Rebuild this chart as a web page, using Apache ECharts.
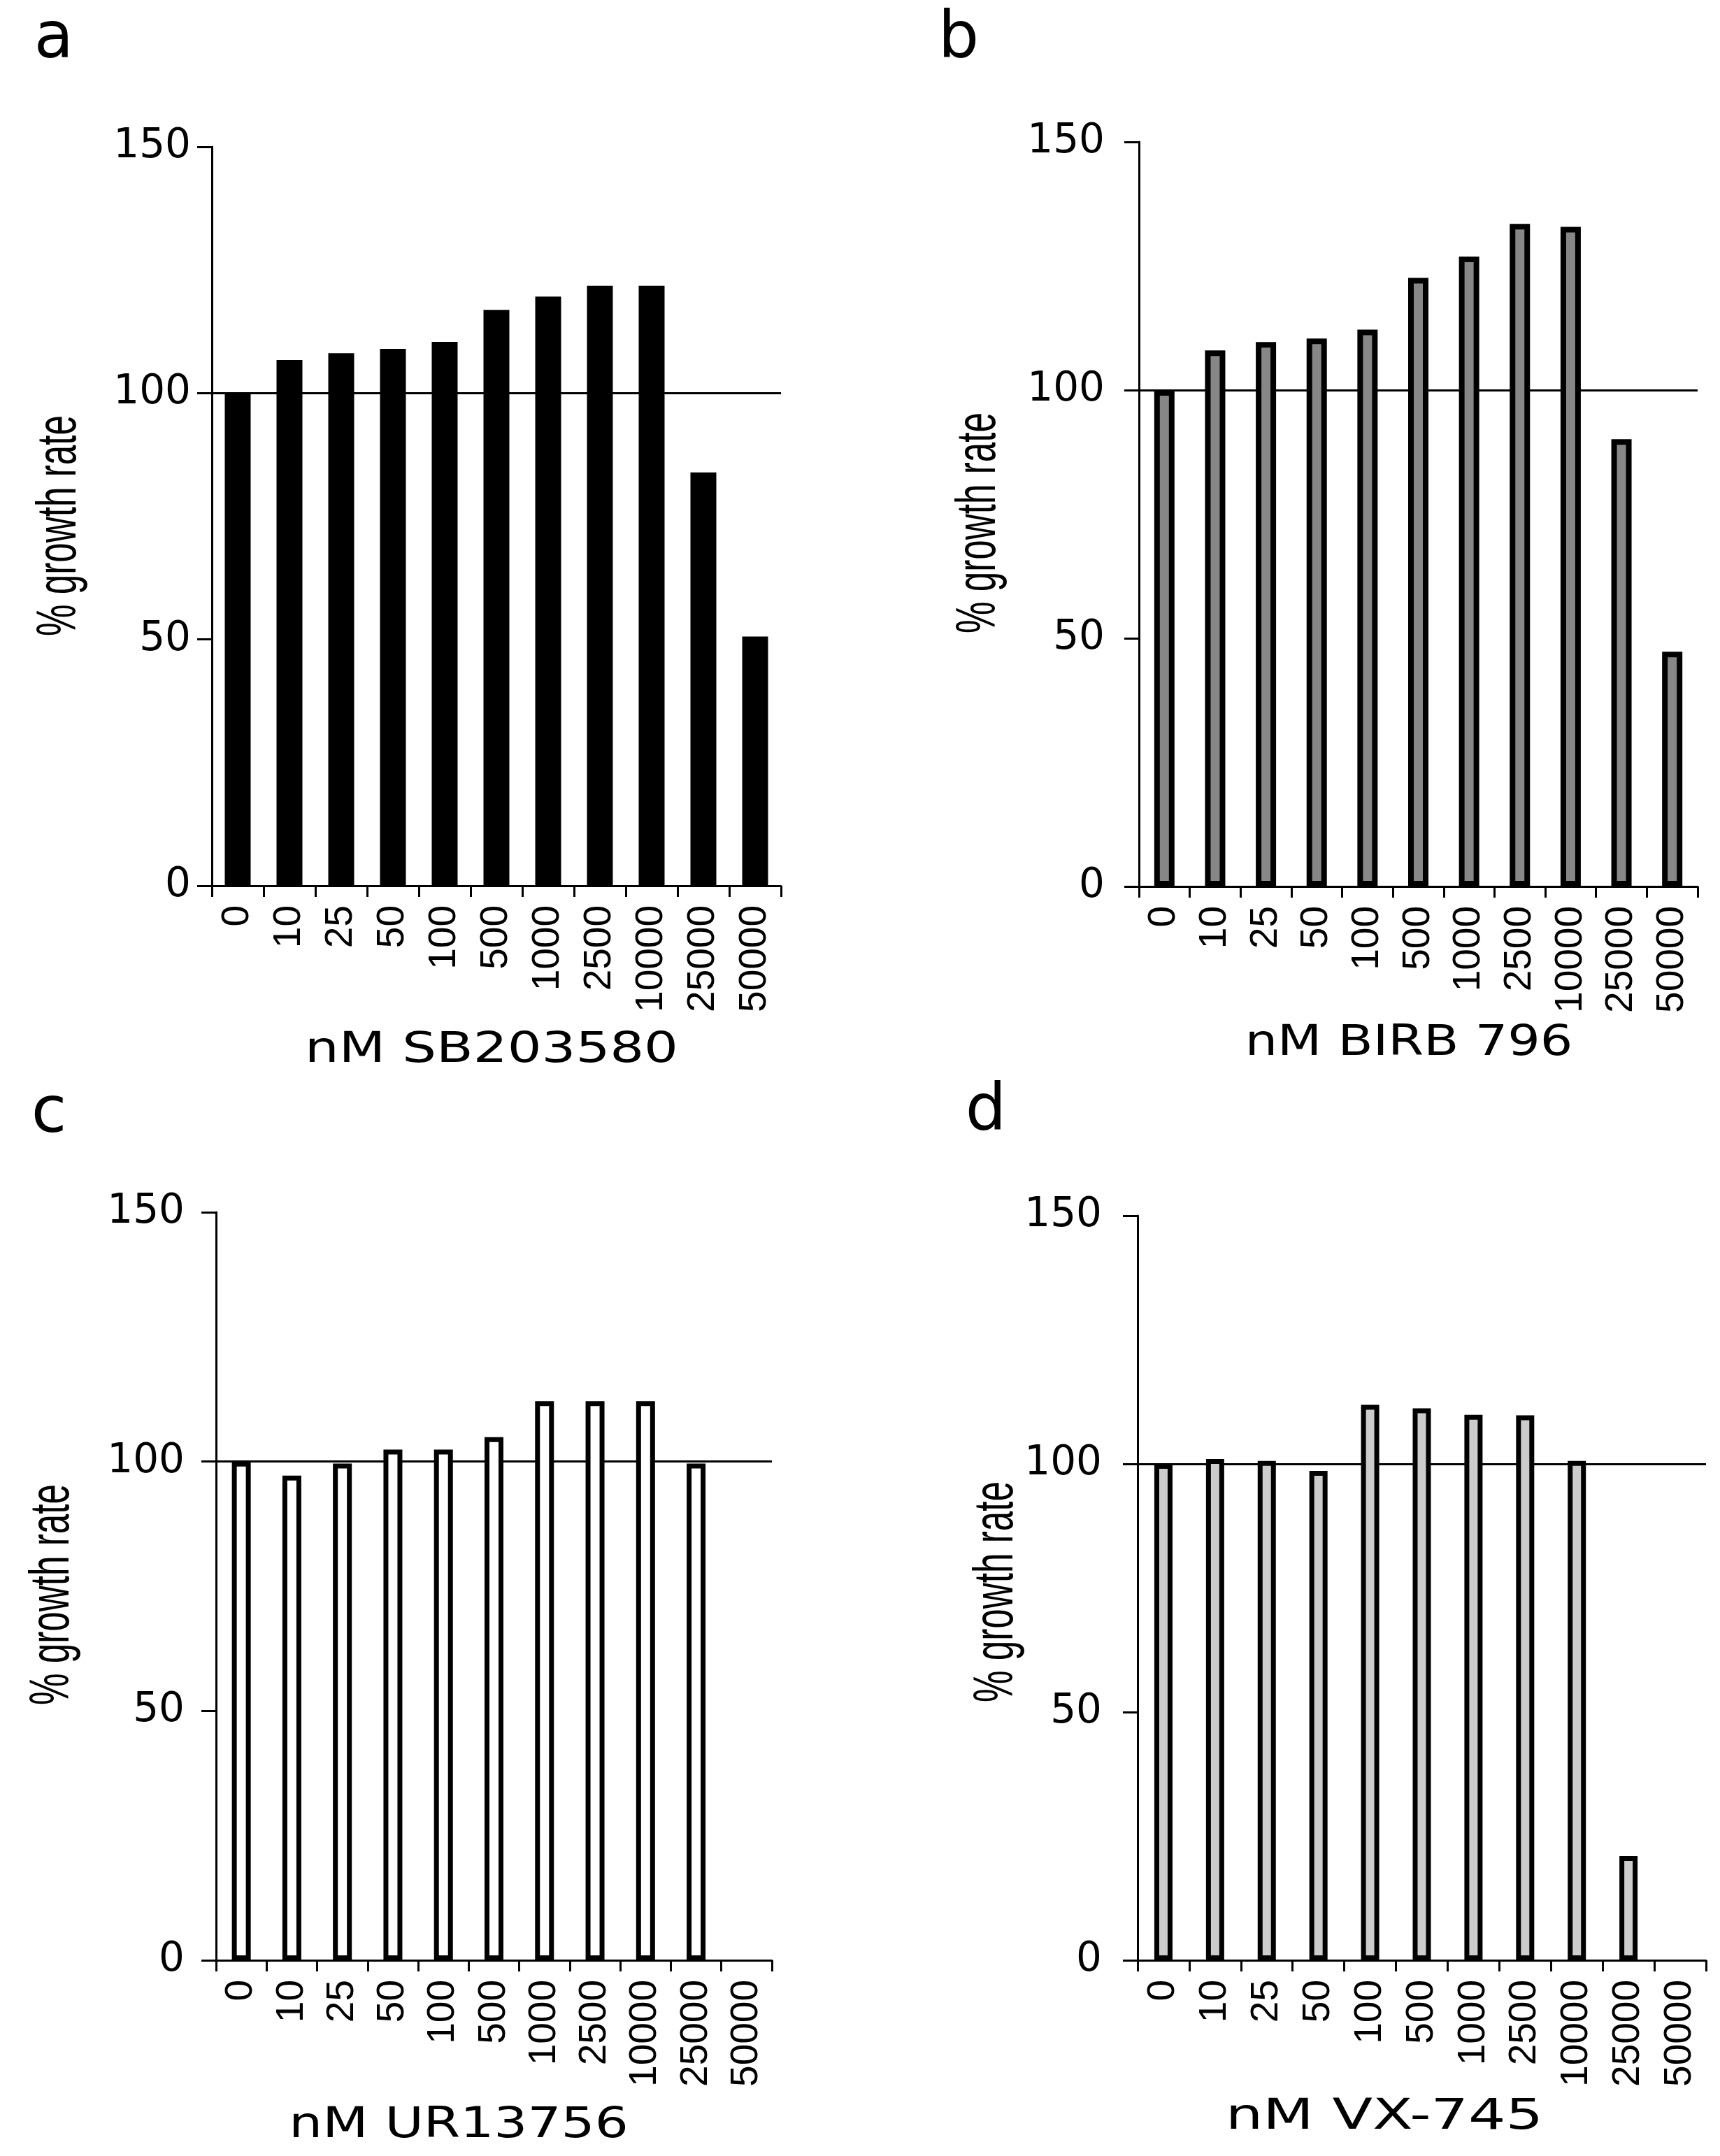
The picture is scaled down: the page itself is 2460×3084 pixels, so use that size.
<!DOCTYPE html>
<html>
<head>
<meta charset="utf-8">
<script src="https://cdn.jsdelivr.net/npm/echarts@6/dist/echarts.min.js"></script>
<style>
html,body{margin:0;padding:0;background:#fff;}
#chart{width:2460px;height:3084px;}
</style>
</head>
<body>
<div id="chart"></div>
<script>
// ---- data ----
const categories = ['0','10','25','50','100','500','1000','2500','10000','25000','50000'];
const valuesA = [100, 106.7, 108.1, 109.0, 110.4, 116.9, 119.6, 121.8, 121.8, 83.9, 50.6];
const valuesB = [100, 108.0, 109.7, 110.4, 112.2, 122.6, 126.9, 133.5, 132.9, 90.1, 47.3];
const valuesC = [100, 97.2, 99.6, 102.4, 102.4, 104.9, 112.1, 112.1, 112.1, 99.6, null];
const valuesD = [100, 101.0, 100.6, 98.6, 111.9, 111.2, 109.9, 109.8, 100.6, 21.0, null];
const yMin = 0, yMax = 150, yStep = 50;
const panelLetters = ['a', 'b', 'c', 'd'];
const xTitles = ['nM SB203580', 'nM BIRB 796', 'nM UR13756', 'nM VX-745'];
const yTitle = '% growth rate';

// ---- layout / style ----
const grids = [
  {left: 303, top: 210, width: 814, height: 1057},
  {left: 1629, top: 203, width: 799, height: 1065},
  {left: 309, top: 1734, width: 795, height: 1070},
  {left: 1627, top: 1739, width: 813, height: 1065}
];
const yLabelMargin = [30, 49, 45, 51];
const barStyles = [
  {color: '#000000', borderWidth: 0, barWidth: 37},
  {color: '#878787', borderWidth: 8, barWidth: 29},
  {color: '#ffffff', borderWidth: 7, barWidth: 27},
  {color: '#cccccc', borderWidth: 7, barWidth: 26}
];
const letterPos = [[77, 58], [1371, 58], [70, 1595], [1410, 1592]];
const xTitlePos = [[703, 1503], [2015, 1493], [656, 3041], [1980, 3029]];
const xTitleScale = [1.28, 1.22, 1.26, 1.40];
const yTitlePos = [[86, 752], [1401, 748], [76, 2281], [1426, 2277]];

const seriesValues = [valuesA, valuesB, valuesC, valuesD];
const wideFont = "'DejaVu Sans', Verdana, sans-serif";
const narrowFont = "'Liberation Sans', Arial, sans-serif";
const clear = 'rgba(0,0,0,0)';

const xAxes = [], yAxes = [], series = [], graphics = [];
grids.forEach((g, i) => {
  xAxes.push({
    type: 'category', gridIndex: i, data: categories,
    axisLine: {show: true, lineStyle: {color: '#000', width: 3}},
    axisTick: {show: true, length: 16, lineStyle: {color: '#000', width: 3}},
    axisLabel: {rotate: 90, margin: 28, interval: 0, fontSize: 55, fontFamily: narrowFont, color: '#000'},
    splitLine: {show: false}
  });
  yAxes.push({
    type: 'value', gridIndex: i, min: yMin, max: yMax, interval: yStep,
    axisLine: {show: true, lineStyle: {color: '#000', width: 3}},
    axisTick: {show: true, length: 21, lineStyle: {color: '#000', width: 3}},
    axisLabel: {margin: yLabelMargin[i], fontSize: 58, fontFamily: wideFont, color: '#000', padding: [0, 0, 18, 0]},
    splitLine: {show: true, lineStyle: {color: [clear, clear, '#000', clear], width: 3}}
  });
  const s = barStyles[i];
  series.push({
    type: 'bar', xAxisIndex: i, yAxisIndex: i, data: seriesValues[i],
    barWidth: s.barWidth,
    itemStyle: {color: s.color, borderColor: '#000', borderWidth: s.borderWidth},
    silent: true, animation: false
  });
  graphics.push({
    type: 'text', x: letterPos[i][0], y: letterPos[i][1],
    style: {text: panelLetters[i], fontSize: 92, fontFamily: wideFont, fill: '#000', align: 'center', verticalAlign: 'middle'}
  });
  graphics.push({
    type: 'text', x: xTitlePos[i][0], y: xTitlePos[i][1], scaleX: xTitleScale[i],
    style: {text: xTitles[i], fontSize: 60, fontFamily: wideFont, fill: '#000', align: 'center', verticalAlign: 'middle'}
  });
  graphics.push({
    type: 'text', x: yTitlePos[i][0], y: yTitlePos[i][1], rotation: Math.PI / 2, scaleX: 0.64,
    style: {text: yTitle, fontSize: 80, fontFamily: narrowFont, fill: '#000', align: 'center', verticalAlign: 'middle'}
  });
});

const chart = echarts.init(document.getElementById('chart'), null, {renderer: 'canvas'});
chart.setOption({
  backgroundColor: '#fff',
  animation: false,
  grid: grids,
  xAxis: xAxes,
  yAxis: yAxes,
  series: series,
  graphic: {elements: graphics}
});
</script>
</body>
</html>
